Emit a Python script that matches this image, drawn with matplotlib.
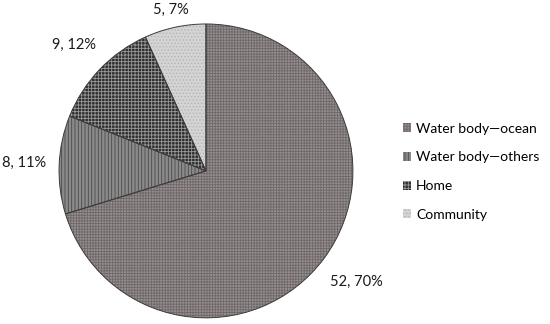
import matplotlib.pyplot as plt
import numpy as np

plt.rcParams['font.family'] = ['Lato', 'DejaVu Sans']
plt.rcParams['hatch.linewidth'] = 0.6

categorias = ['Water body\u2014ocean', 'Water body\u2014others', 'Home', 'Community']
valores = [52, 8, 9, 5]
porcentajes = [70, 11, 12, 7]
fondos = ['#978f8f', '#8a8a8a', '#2e2e2e', '#d4d4d4']
tramas = ['#6f6868', '#4a4a4a', '#9a9a9a', '#b4b4b4']
patrones = ['++++++', '|||||', '+++++', '.....']
# distancia de cada etiqueta al centro (en radios)
distancias = [1.27, 1.24, 1.24, 1.12]

etiquetas = ['%d, %d%%' % (v, p) for v, p in zip(valores, porcentajes)]

fig = plt.figure(figsize=(5.5, 3.24), dpi=100)
ax = fig.add_axes([0.107, 0.019, 0.535, 0.907])

# primera pasada: relleno con trama
cunas, textos = ax.pie(valores, startangle=90, counterclock=False,
                       labels=etiquetas, labeldistance=1.0,
                       textprops={'fontsize': 10.5, 'color': '#1a1a1a'},
                       wedgeprops={'linewidth': 0})
for c, f, t, p in zip(cunas, fondos, tramas, patrones):
    c.set_facecolor(f)
    c.set_edgecolor(t)
    c.set_hatch(p)
for t, d in zip(textos, distancias):
    x, y = t.get_position()
    t.set_position((x * d, y * d))
    t.set_ha('center')
    t.set_va('center')

# segunda pasada: solo el contorno
ax.pie(valores, startangle=90, counterclock=False,
       wedgeprops={'fill': False, 'edgecolor': '#3c3c3c', 'linewidth': 0.7})
ax.set_aspect('equal')
ax.set_xlim(-1, 1)
ax.set_ylim(-1, 1)

leg = fig.legend(cunas, categorias, loc='center left',
                 bbox_to_anchor=(0.71, 0.47), frameon=False,
                 handlelength=0.6, handleheight=0.6, handletextpad=0.35,
                 labelspacing=1.2, fontsize=10)
for h in leg.legend_handles:
    h.set_linewidth(0)

fig.savefig('out.png', dpi=100)
